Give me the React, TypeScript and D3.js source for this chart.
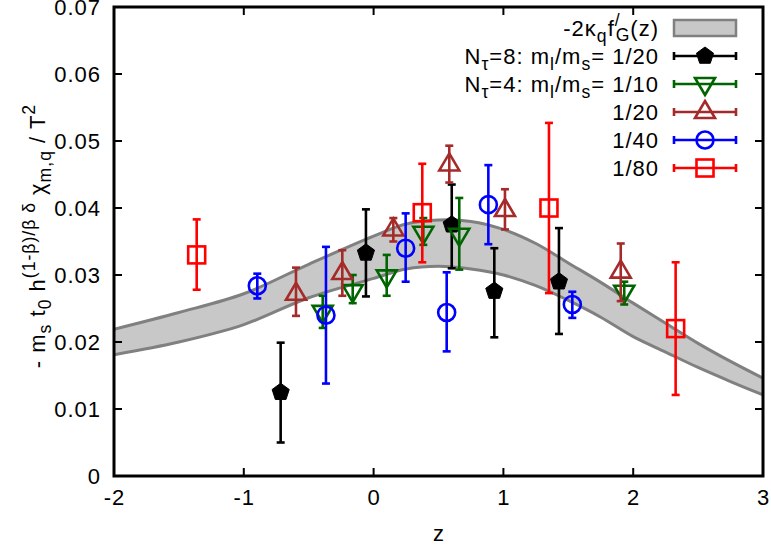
import React from "react";
import * as d3 from "d3";

// ---- data ----
const bandZ = [-2, -1.5, -1, -0.5, 0, 0.25, 0.5, 0.75, 1, 1.25, 1.5, 1.75, 2, 2.25, 2.5, 2.75, 3];
const bandUpper = [0.0219, 0.0244, 0.0272, 0.0316, 0.0358, 0.0376, 0.0382, 0.038, 0.0368, 0.0347, 0.0318, 0.0289, 0.0258, 0.0228, 0.0198, 0.0171, 0.0146];
const bandLower = [0.0181, 0.02, 0.0226, 0.0266, 0.0295, 0.0309, 0.0313, 0.0309, 0.03, 0.0284, 0.0262, 0.0237, 0.0208, 0.0185, 0.0162, 0.0141, 0.0121];

// each: [z, value, low, high]
const nt8_20: number[][] = [
  [-0.716, 0.0125, 0.005, 0.0199],
  [-0.059, 0.0333, 0.0268, 0.0398],
  [0.602, 0.0375, 0.031, 0.0435],
  [0.93, 0.0276, 0.0207, 0.034],
  [1.428, 0.029, 0.0212, 0.037],
];
const nt4_10: number[][] = [
  [-0.392, 0.0245, 0.0221, 0.0269],
  [-0.161, 0.0276, 0.0258, 0.03],
  [0.101, 0.0298, 0.0269, 0.033],
  [0.383, 0.0363, 0.0345, 0.0385],
  [0.66, 0.036, 0.0308, 0.0415],
  [1.931, 0.0275, 0.0256, 0.029],
];
const nt4_20: number[][] = [
  [-0.598, 0.0272, 0.0239, 0.0311],
  [-0.241, 0.0303, 0.0269, 0.0337],
  [0.152, 0.0368, 0.035, 0.0385],
  [0.583, 0.0465, 0.0438, 0.0493],
  [1.012, 0.0397, 0.0368, 0.0428],
  [1.904, 0.0305, 0.0261, 0.0347],
];
const nt4_40: number[][] = [
  [-0.896, 0.0284, 0.0265, 0.0302],
  [-0.367, 0.024, 0.0138, 0.0342],
  [0.247, 0.034, 0.029, 0.0392],
  [0.563, 0.0244, 0.0186, 0.0304],
  [0.884, 0.0405, 0.0346, 0.0464],
  [1.531, 0.0256, 0.0236, 0.0275],
];
const nt4_80: number[][] = [
  [-1.363, 0.033, 0.0278, 0.0383],
  [0.375, 0.0393, 0.0319, 0.0466],
  [1.351, 0.04, 0.0273, 0.0527],
  [2.327, 0.022, 0.0121, 0.0319],
];

const xTicks = [-2, -1, 0, 1, 2, 3];
const yTicks = [0, 0.01, 0.02, 0.03, 0.04, 0.05, 0.06, 0.07];

const FONT = "'Liberation Sans', Arial, Helvetica, sans-serif";
const FS = 22;
const LS = 1;

type Shape = "pentagon" | "tridown" | "triup" | "circle" | "square";

const seriesList: { data: number[][]; color: string; shape: Shape }[] = [
  { data: nt8_20, color: "#000000", shape: "pentagon" },
  { data: nt4_10, color: "#006400", shape: "tridown" },
  { data: nt4_20, color: "#a52a2a", shape: "triup" },
  { data: nt4_40, color: "#0000ff", shape: "circle" },
  { data: nt4_80, color: "#ff0000", shape: "square" },
];

function Marker({ x, y, shape, color }: { x: number; y: number; shape: Shape; color: string }) {
  const sw = 2.6;
  if (shape === "pentagon") {
    const r = 9;
    const pts = d3.range(5).map((k) => {
      const a = (-90 + 72 * k) * (Math.PI / 180);
      return [x + r * Math.cos(a), y + r * Math.sin(a)];
    });
    return <polygon points={pts.map((p) => p.join(",")).join(" ")} fill={color} stroke={color} strokeWidth={1} />;
  }
  if (shape === "triup") {
    const pts = [[x, y - 11], [x + 10, y + 6], [x - 10, y + 6]];
    return <polygon points={pts.map((p) => p.join(",")).join(" ")} fill="none" stroke={color} strokeWidth={sw} />;
  }
  if (shape === "tridown") {
    const pts = [[x, y + 11], [x + 10, y - 6], [x - 10, y - 6]];
    return <polygon points={pts.map((p) => p.join(",")).join(" ")} fill="none" stroke={color} strokeWidth={sw} />;
  }
  if (shape === "circle") {
    return <circle cx={x} cy={y} r={8.5} fill="none" stroke={color} strokeWidth={sw} />;
  }
  return <rect x={x - 8.5} y={y - 8.5} width={17} height={17} fill="none" stroke={color} strokeWidth={sw} />;
}

export default function App() {
  const W = 771, H = 551;
  const L = 114, R = 763, T = 7, B = 476;
  const x = d3.scaleLinear().domain([-2, 3]).range([L, R]);
  const y = d3.scaleLinear().domain([0, 0.07]).range([B, T]);

  const bandData = bandZ.map((z, i) => ({ z, u: bandUpper[i], l: bandLower[i] }));
  const area = d3
    .area<{ z: number; u: number; l: number }>()
    .x((d) => x(d.z))
    .y0((d) => y(d.l))
    .y1((d) => y(d.u))
    .curve(d3.curveCatmullRom);
  const upLine = d3.line<{ z: number; u: number; l: number }>().x((d) => x(d.z)).y((d) => y(d.u)).curve(d3.curveCatmullRom);
  const loLine = d3.line<{ z: number; u: number; l: number }>().x((d) => x(d.z)).y((d) => y(d.l)).curve(d3.curveCatmullRom);

  const cap = 4;
  const lw = 2.6;

  const legendRows = [
    { label: "nt8", color: "#000000", shape: "pentagon" as Shape },
    { label: "nt4", color: "#006400", shape: "tridown" as Shape },
    { label: "1/20", color: "#a52a2a", shape: "triup" as Shape },
    { label: "1/40", color: "#0000ff", shape: "circle" as Shape },
    { label: "1/80", color: "#ff0000", shape: "square" as Shape },
  ];
  const legTextX = 659;
  const legX0 = 674, legX1 = 736;
  const legY0 = 28, legDY = 28;
  const sub = FS * 0.8;

  const legendLabel = (key: string) => {
    if (key === "nt8" || key === "nt4") {
      const n = key === "nt8" ? "8" : "4";
      const r = key === "nt8" ? "1/20" : "1/10";
      return (
        <>
          N<tspan fontSize={sub} dy={6}>τ</tspan>
          <tspan dy={-6}>={n}: m</tspan>
          <tspan fontSize={sub} dy={6}>l</tspan>
          <tspan dy={-6}>/m</tspan>
          <tspan fontSize={sub} dy={6}>s</tspan>
          <tspan dy={-6}>= {r}</tspan>
        </>
      );
    }
    return key;
  };

  return (
    <svg width={W} height={H} style={{ display: "block", position: "absolute", left: 0, top: 0 }} fontFamily={FONT}>
      <rect width={W} height={H} fill="#fff" />
      <defs>
        <clipPath id="plotclip">
          <rect x={L} y={T} width={R - L} height={B - T} />
        </clipPath>
      </defs>
      <g clipPath="url(#plotclip)">
        <path d={area(bandData) || ""} fill="#c8c8c8" stroke="none" />
        <path d={upLine(bandData) || ""} fill="none" stroke="#808080" strokeWidth={3} />
        <path d={loLine(bandData) || ""} fill="none" stroke="#808080" strokeWidth={3} />
      </g>

      {/* ticks */}
      {xTicks.map((t) => (
        <g key={"xt" + t}>
          <line x1={x(t)} x2={x(t)} y1={B} y2={B - 8} stroke="#000" strokeWidth={2} />
          <line x1={x(t)} x2={x(t)} y1={T} y2={T + 8} stroke="#000" strokeWidth={2} />
          <text x={x(t) + LS / 2} y={505} fontSize={FS} letterSpacing={LS} textAnchor="middle">
            {d3.format("d")(t).replace("−", "-")}
          </text>
        </g>
      ))}
      {yTicks.map((t) => (
        <g key={"yt" + t}>
          <line x1={L} x2={L + 8} y1={y(t)} y2={y(t)} stroke="#000" strokeWidth={2} />
          <line x1={R} x2={R - 8} y1={y(t)} y2={y(t)} stroke="#000" strokeWidth={2} />
          <text x={101} y={y(t)} dy="0.36em" fontSize={FS} letterSpacing={LS} textAnchor="end">
            {t === 0 ? "0" : d3.format(".2f")(t)}
          </text>
        </g>
      ))}

      {/* data */}
      {seriesList.map((s, si) => (
        <g key={"s" + si}>
          {s.data.map((d, i) => {
            const px = x(d[0]);
            return (
              <g key={i}>
                <line x1={px} x2={px} y1={y(d[2])} y2={y(d[3])} stroke={s.color} strokeWidth={lw} />
                <line x1={px - cap} x2={px + cap} y1={y(d[2])} y2={y(d[2])} stroke={s.color} strokeWidth={lw} />
                <line x1={px - cap} x2={px + cap} y1={y(d[3])} y2={y(d[3])} stroke={s.color} strokeWidth={lw} />
                <Marker x={px} y={y(d[1])} shape={s.shape} color={s.color} />
              </g>
            );
          })}
        </g>
      ))}

      {/* frame */}
      <rect x={L} y={T} width={R - L} height={B - T} fill="none" stroke="#000" strokeWidth={3} />

      {/* legend */}
      <g fontSize={FS} letterSpacing={LS}>
        <text x={legTextX} y={legY0} dy="0.36em" textAnchor="end">
          -2κ<tspan fontSize={sub} dy={6}>q</tspan>
          <tspan dy={-6}>f</tspan>
          <tspan fontSize={sub} dy={-10}>/</tspan>
          <tspan fontSize={sub} dx={-5} dy={15}>G</tspan>
          <tspan dy={-5}>(z)</tspan>
        </text>
        <rect x={legX0} y={legY0 - 8} width={legX1 - legX0} height={16} fill="#c8c8c8" stroke="#808080" strokeWidth={2.5} />
        {legendRows.map((r, i) => {
          const yy = legY0 + legDY * (i + 1);
          const cx = (legX0 + legX1) / 2;
          return (
            <g key={"lg" + i}>
              <text x={legTextX} y={yy} dy="0.36em" textAnchor="end">
                {legendLabel(r.label)}
              </text>
              <line x1={legX0} x2={legX1} y1={yy} y2={yy} stroke={r.color} strokeWidth={lw} />
              <line x1={legX0} x2={legX0} y1={yy - cap} y2={yy + cap} stroke={r.color} strokeWidth={lw} />
              <line x1={legX1} x2={legX1} y1={yy - cap} y2={yy + cap} stroke={r.color} strokeWidth={lw} />
              <Marker x={cx} y={yy} shape={r.shape} color={r.color} />
            </g>
          );
        })}
      </g>

      {/* axis labels */}
      <text x={(L + R) / 2} y={541} fontSize={FS} textAnchor="middle">z</text>
      <text transform={`translate(45,236) rotate(-90)`} fontSize={FS} letterSpacing={LS} textAnchor="middle">
        - m<tspan fontSize={sub} dy={6}>s</tspan>
        <tspan dy={-6}> t</tspan>
        <tspan fontSize={sub} dy={6}>0</tspan>
        <tspan dy={-6}> h</tspan>
        <tspan fontSize={sub} dy={-10}>(1-β)/β δ</tspan>
        <tspan dy={10}> χ</tspan>
        <tspan fontSize={sub} dy={6}>m,q</tspan>
        <tspan dy={-6}> / T</tspan>
        <tspan fontSize={sub} dy={-10}>2</tspan>
      </text>
    </svg>
  );
}
